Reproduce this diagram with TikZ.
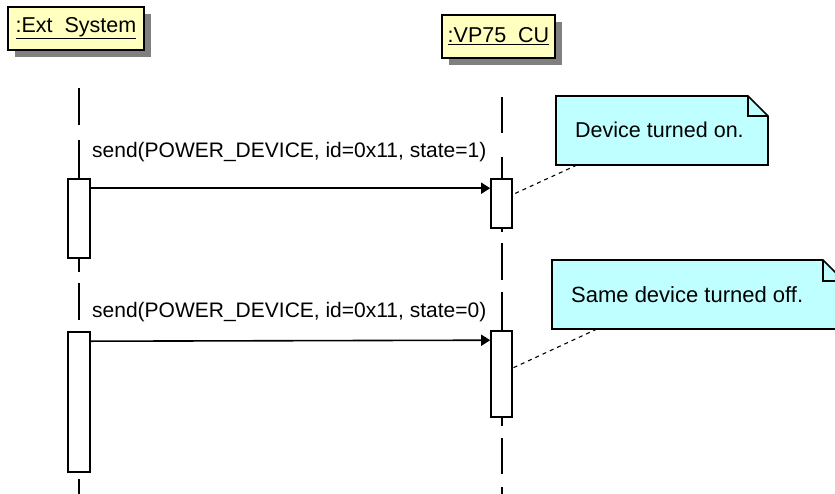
\documentclass[tikz,border=0pt]{standalone}
\usepackage{fontspec}
\setmainfont{Liberation Sans}
\usetikzlibrary{arrows.meta,shadows,calc}
\definecolor{hdrfill}{HTML}{FFFFC0}
\definecolor{notefill}{HTML}{C0FFFF}
\definecolor{shadowgray}{HTML}{808080}
\begin{document}
\begin{tikzpicture}[x=1pt,y=-1pt,
  every node/.style={font=\fontsize{21.5}{25}\selectfont},
  hdr/.style={draw=black, line width=1.6pt, fill=hdrfill, minimum height=43pt, inner sep=0pt,
    drop shadow={shadow xshift=7pt, shadow yshift=-7pt, fill=shadowgray, opacity=1}},
  act/.style={draw=black, line width=1.6pt, fill=white, minimum width=22pt, inner sep=0pt},
  lifeline/.style={line width=1.6pt},
  msg/.style={line width=1.6pt, -{Triangle[length=9pt,width=11pt]}},
  lbl/.style={anchor=west, inner sep=0pt},
  msglbl/.style={lbl, font=\fontsize{21}{25}\selectfont},
  notebody/.style={draw=black, line width=1.6pt, fill=notefill, line join=miter},
  foldline/.style={draw=black, line width=1.6pt},
  anchorline/.style={line width=1.1pt, dash pattern=on 4pt off 4pt},
]
\clip (0,0) rectangle (835,493);
\fill[white] (0,0) rectangle (835,493);

% header boxes
\node[hdr, minimum width=136pt] (ext) at (76,28.5) {\underline{:Ext\ \ System}};
\node[hdr, minimum width=113pt] (vp) at (498.5,36.5) {\underline{:VP75\ \ CU}};

% lifelines
\coordinate (ext0) at (79,88);
\coordinate (ext1) at (79,500);
\coordinate (vp0) at (502,97);
\coordinate (vp1) at (502,500);
\draw[lifeline, dash pattern=on 37pt off 15pt on 132pt off 11pt on 37pt off 12pt on 140pt off 7pt on 40pt] (ext0) -- (ext1);
\draw[lifeline, dash pattern=on 36pt off 24pt on 75pt off 11pt on 37pt off 12pt on 134pt off 12pt on 36pt off 13pt on 30pt] (vp0) -- (vp1);

% activation boxes
\node[act, minimum height=79pt] (a1) at (79,218.5) {};
\node[act, minimum height=140pt] (a2) at (79,402) {};
\node[act, minimum width=21pt, minimum height=49pt] (va1) at (501.5,203.5) {};
\node[act, minimum width=21pt, minimum height=86pt] (va2) at (501.5,374) {};

% messages
\draw[msg] ($(a1.north east)+(0,10)$) -- ($(va1.north west)+(0,10)$);
\draw[msg] ($(a2.north east)+(0,10)$) -- ($(va2.north west)+(0,10)$);
\node[msglbl] (l1) at (92,152) {send(POWER\_DEVICE, id=0x11, state=1)};
\node[msglbl] (l2) at (92,312) {send(POWER\_DEVICE, id=0x11, state=0)};

% note 1
\filldraw[notebody] (556,96) -- (748,96) -- (768,116) -- (768,165) -- (556,165) -- cycle;
\draw[foldline] (748,96) -- (748,116) -- (768,116);
\node[lbl] (n1) at (575,130) {Device turned on.};
\coordinate (n1a) at (577,165);
\draw[anchorline] (n1a) -- ($(va1.east)+(0,-9)$);

% note 2
\filldraw[notebody] (552,260) -- (823,260) -- (844,281) -- (844,329) -- (552,329) -- cycle;
\draw[foldline] (823,260) -- (823,281) -- (844,281);
\node[lbl, font=\fontsize{22}{26}\selectfont] (n2) at (571,295) {Same device turned off.};
\coordinate (n2a) at (597,329);
\draw[anchorline] (n2a) -- ($(va2.east)+(0,-6)$);
\end{tikzpicture}
\end{document}
